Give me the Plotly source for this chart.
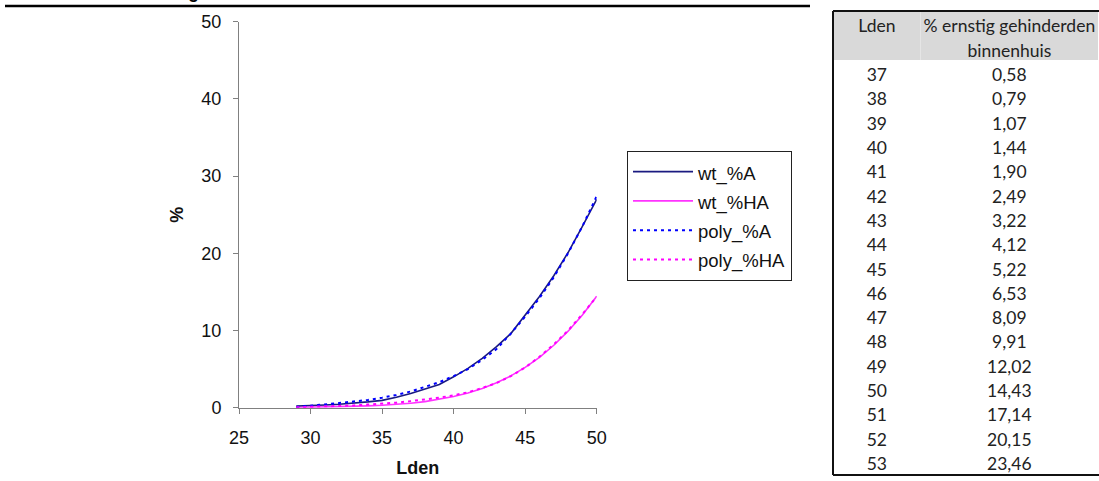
import plotly.graph_objects as go

W, H = 1099, 481

# ---- chart data ----
lden = [29, 30, 31, 32, 33, 34, 35, 36, 37, 38, 39, 40, 41, 42, 43, 44, 45, 46, 47, 48, 49, 50]
wt_A = [0.2, 0.25, 0.35, 0.45, 0.58, 0.75, 0.95, 1.35, 1.85, 2.4, 3.0, 4.0, 5.1, 6.4, 7.9, 9.6, 12.0, 14.4, 17.1, 20.1, 23.5, 27.0]
wt_HA = [0.02, 0.05, 0.08, 0.12, 0.17, 0.24, 0.32, 0.43, 0.58, 0.79, 1.07, 1.44, 1.90, 2.49, 3.22, 4.12, 5.22, 6.53, 8.09, 9.91, 12.02, 14.43]
poly_A = [0.1, 0.25, 0.45, 0.6, 0.8, 1.0, 1.3, 1.65, 2.1, 2.65, 3.3, 4.1, 5.0, 6.2, 7.6, 9.6, 11.8, 14.2, 16.9, 20.0, 23.5, 27.4]
poly_HA = [0.05, 0.1, 0.15, 0.22, 0.3, 0.4, 0.5, 0.65, 0.85, 1.05, 1.3, 1.6, 2.0, 2.55, 3.2, 4.1, 5.2, 6.6, 8.2, 10.0, 12.1, 14.4]

x_ticks = [25, 30, 35, 40, 45, 50]
y_ticks = [0, 10, 20, 30, 40, 50]

# ---- table data ----
table_header_col1 = ["Lden", ""]
table_header_col2 = ["%\u00a0ernstig\u00a0gehinderden", "binnenhuis"]
table_lden = [37, 38, 39, 40, 41, 42, 43, 44, 45, 46, 47, 48, 49, 50, 51, 52, 53]
table_pct = [0.58, 0.79, 1.07, 1.44, 1.90, 2.49, 3.22, 4.12, 5.22, 6.53, 8.09, 9.91, 12.02, 14.43, 17.14, 20.15, 23.46]

fig = go.Figure()

LEG = "<span style='font-size:18.5px'>%s</span>"
fig.add_trace(go.Scatter(x=lden, y=wt_A, mode="lines", name=LEG % "wt_%A",
                         line=dict(color="#1a1a80", width=1.6)))
fig.add_trace(go.Scatter(x=lden, y=wt_HA, mode="lines", name=LEG % "wt_%HA",
                         line=dict(color="#ff33ff", width=1.6)))
fig.add_trace(go.Scatter(x=lden, y=poly_A, mode="lines", name=LEG % "poly_%A",
                         line=dict(color="#0000ff", width=2, dash="3px,4px")))
fig.add_trace(go.Scatter(x=lden, y=poly_HA, mode="lines", name=LEG % "poly_%HA",
                         line=dict(color="#ff00ff", width=2, dash="3px,4px")))

tfont = dict(family="Lato", size=17.5, color="#222222")
fig.add_trace(go.Table(
    domain=dict(x=[833 / W, 1.0], y=[1 - 475 / H, 1 - 11 / H]),
    columnwidth=[88, 178],
    header=dict(values=[table_header_col1, table_header_col2], fill_color="#d9d9d9",
                line=dict(color="rgba(0,0,0,0)", width=0), align="center",
                font=tfont, height=24.5),
    cells=dict(values=[table_lden, [f"{v:.2f}".replace(".", ",") for v in table_pct]],
               fill_color="white", line=dict(color="rgba(0,0,0,0)", width=0),
               align="center", font=tfont, height=24.3),
))

axis_font = dict(family="Liberation Sans, Arial", size=18, color="#111111")
title_font = dict(family="Liberation Sans, Arial", size=18, color="#111111")
fig.update_layout(
    width=W, height=H,
    margin=dict(l=0, r=0, t=0, b=0),
    paper_bgcolor="white", plot_bgcolor="white",
    showlegend=True,
    legend=dict(x=627 / W, y=1 - 151 / H, xanchor="left", yanchor="top",
                bordercolor="#222222", borderwidth=1, bgcolor="white",
                font=dict(family="Liberation Sans, Arial", size=20.2, color="#111111"),
                itemwidth=60, tracegroupgap=0),
    xaxis=dict(domain=[239 / W, 596.7 / W], range=[25, 50], tickvals=x_ticks,
               showgrid=False, zeroline=False, showline=True, linecolor="#808080", linewidth=1,
               ticks="outside", ticklen=5, tickcolor="#808080", tickfont=axis_font,
               ticklabelstandoff=9, automargin=False,
               title=dict(text="<b>Lden</b>", font=title_font, standoff=14)),
    yaxis=dict(domain=[(H - 407.7) / H, (H - 21.7) / H], range=[0, 50], tickvals=y_ticks,
               showgrid=False, zeroline=False, showline=True, linecolor="#808080", linewidth=1,
               ticks="outside", ticklen=5, tickcolor="#808080", tickfont=axis_font,
               ticklabelstandoff=8, automargin=False,
               title=dict(text="<b>%</b>", font=title_font, standoff=13)),
    shapes=[
        dict(type="line", xref="paper", yref="paper", x0=5 / W, x1=810 / W, y0=1 - 6 / H, y1=1 - 6 / H,
             line=dict(color="black", width=2.5)),
        dict(type="line", xref="paper", yref="paper", x0=833 / W, x1=1.0, y0=1 - 11 / H, y1=1 - 11 / H,
             line=dict(color="#111111", width=2)),
        dict(type="line", xref="paper", yref="paper", x0=833 / W, x1=833 / W, y0=1 - 11 / H, y1=1 - 475 / H,
             line=dict(color="#111111", width=2)),
        dict(type="line", xref="paper", yref="paper", x0=833 / W, x1=1.0, y0=1 - 475 / H, y1=1 - 475 / H,
             line=dict(color="#111111", width=2)),
    ],
    annotations=[
        dict(text="<b>g</b>", xref="paper", yref="paper", x=193 / W, y=1 - 3 / H,
             xanchor="center", yanchor="bottom", showarrow=False, borderpad=0,
             font=dict(family="Liberation Sans, Arial", size=18, color="black")),
    ],
)

fig.write_html("out.html")
